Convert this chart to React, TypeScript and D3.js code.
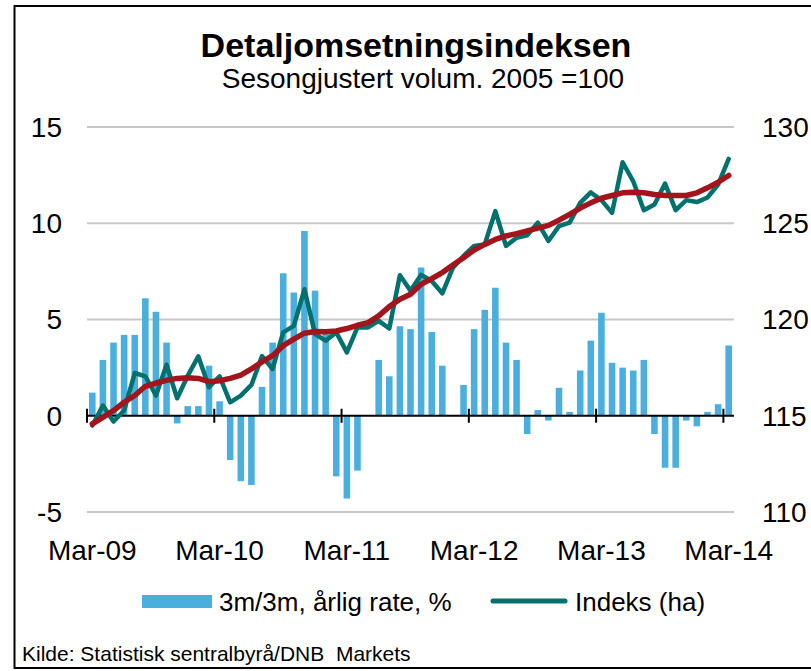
import React from 'react';
import * as d3 from 'd3';

const MONTHS = ['Jan', 'Feb', 'Mar', 'Apr', 'Mai', 'Jun', 'Jul', 'Aug', 'Sep', 'Okt', 'Nov', 'Des'];
const categories: string[] = [];
for (let i = 0; i < 61; i++) {
  const m = (2 + i) % 12;
  const y = 9 + Math.floor((2 + i) / 12);
  categories.push(`${MONTHS[m]}-${String(y).padStart(2, '0')}`);
}

const tickLabels = ['Mar-09', 'Mar-10', 'Mar-11', 'Mar-12', 'Mar-13', 'Mar-14'];
const leftTicks = [-5, 0, 5, 10, 15];
const rightTicks = [110, 115, 120, 125, 130];

// 3m/3m, årlig rate, % (left axis)
const rate = [
  1.2, 2.9, 3.8, 4.2, 4.2, 6.1, 5.4, 3.8, -0.4, 0.5, 0.5, 2.6,
  0.75, -2.3, -3.4, -3.6, 1.5, 3.8, 7.4, 6.4, 9.6, 6.5, 4.3, -3.15,
  -4.3, -2.85, 0, 2.9, 2.05, 4.65, 4.5, 7.7, 4.35, 2.6, 0, 1.6,
  4.5, 5.5, 6.65, 3.8, 2.9, -0.95, 0.3, -0.25, 1.45, 0.2, 2.35, 3.9,
  5.35, 2.75, 2.5, 2.35, 2.9, -0.95, -2.7, -2.7, -0.25, -0.55, 0.2, 0.6,
  3.65,
];

// Indeks (ha) (right axis)
const indeks = [
  114.49, 115.53, 114.7, 115.27, 117.22, 117.05, 116.05, 117.65, 115.91, 117.08, 118.08, 116.48,
  117.05, 115.7, 116.05, 116.6, 118.1, 117.43, 119.33, 119.67, 121.57, 119.24, 118.9, 119.33,
  118.29, 119.59, 119.59, 119.93, 119.53, 122.3, 121.49, 122.32, 122.0, 121.36, 122.69, 123.3,
  123.82, 123.9, 125.63, 123.82, 124.25, 124.37, 125.03, 124.08, 124.85, 125.03, 126.06, 126.6,
  126.2, 125.54, 128.17, 127.18, 125.68, 125.97, 127.06, 125.68, 126.2, 126.1, 126.34, 127.01,
  128.34,
];

// Trend (right axis)
const trend = [
  114.58, 114.92, 115.27, 115.7, 116.05, 116.53, 116.7, 116.84, 116.94, 116.98, 116.94, 116.77,
  116.82, 116.94, 117.11, 117.43, 117.8, 118.12, 118.64, 118.98, 119.29, 119.38, 119.36, 119.4,
  119.53, 119.7, 119.84, 120.19, 120.67, 121.05, 121.31, 121.83, 122.12, 122.44, 122.83, 123.21,
  123.61, 123.9, 124.16, 124.34, 124.46, 124.6, 124.75, 124.89, 125.16, 125.46, 125.79, 126.06,
  126.3, 126.44, 126.58, 126.61, 126.58, 126.49, 126.44, 126.44, 126.44, 126.58, 126.84, 127.13,
  127.48,
];

const W = 811;
const H = 671;
const FONT = '"Liberation Sans", Arial, sans-serif';
const BAR = '#4AAFDF';
const TEAL = '#00716C';
const RED = '#A3141C';

export default function App() {
  const x = d3.scaleBand<string>().domain(categories).range([87, 734]).paddingInner(0.38).paddingOuter(0.19);
  const yL = d3.scaleLinear().domain([-5, 15]).range([512, 127]);
  const yR = d3.scaleLinear().domain([110, 130]).range([512, 127]);
  const half = (x.step() - x.bandwidth()) / 2;
  const cx = (i: number) => (x(categories[i]) as number) + x.bandwidth() / 2;
  const tickX = (c: string) => (x(c) as number) - half;

  const line = d3.line<number>().x((_, i) => cx(i)).y((d) => yR(d));
  const [x0, x1] = x.range();
  const zeroY = yL(0);

  return (
    <svg width={W} height={H} style={{ position: 'absolute', left: 0, top: 0, background: '#fff' }} fontFamily={FONT}>
      <rect x={0} y={0} width={W} height={H} fill="#fff" />
      <rect x={14.5} y={6} width={W} height={662} fill="none" stroke="#000" strokeWidth={2} />

      <text x={416} y={57} textAnchor="middle" fontSize={34} fontWeight="bold" fill="#000">Detaljomsetningsindeksen</text>
      <text x={423} y={88} textAnchor="middle" fontSize={28} fill="#000">Sesongjustert volum. 2005 =100</text>

      {leftTicks.filter((t) => t !== 0).map((t) => (
        <line key={`g${t}`} x1={x0} x2={x1} y1={yL(t)} y2={yL(t)} stroke="#C8C8C8" strokeWidth={2} />
      ))}

      {rate.map((v, i) => (
        <rect key={`b${i}`} x={x(categories[i])} width={x.bandwidth()} y={Math.min(yL(v), zeroY)} height={Math.abs(yL(v) - zeroY)} fill={BAR} />
      ))}

      <line x1={x0} x2={x1} y1={zeroY} y2={zeroY} stroke="#000" strokeWidth={2} />
      {tickLabels.map((c) => (
        <line key={`t${c}`} x1={tickX(c)} x2={tickX(c)} y1={zeroY - 7} y2={zeroY + 7} stroke="#000" strokeWidth={2} />
      ))}

      <path d={line(indeks) || ''} fill="none" stroke={TEAL} strokeWidth={4.5} strokeLinejoin="round" strokeLinecap="round" />
      <path d={line(trend) || ''} fill="none" stroke={RED} strokeWidth={5.5} strokeLinejoin="round" strokeLinecap="round" />

      {leftTicks.map((t) => (
        <text key={`l${t}`} x={62} y={yL(t)} dy="0.35em" textAnchor="end" fontSize={28} fill="#000">{t}</text>
      ))}
      {rightTicks.map((t) => (
        <text key={`r${t}`} x={762} y={yR(t)} dy="0.35em" textAnchor="start" fontSize={28} fill="#000">{t}</text>
      ))}
      {tickLabels.map((c) => (
        <text key={`x${c}`} x={tickX(c) + x.step() / 2} y={560} textAnchor="middle" fontSize={28} fill="#000">{c}</text>
      ))}

      <rect x={142} y={595} width={70} height={13} fill={BAR} />
      <text x={219} y={611} fontSize={26} fill="#000">3m/3m, årlig rate, %</text>
      <line x1={493} x2={565} y1={601} y2={601} stroke={TEAL} strokeWidth={5} strokeLinecap="round" />
      <text x={575} y={611} fontSize={26} fill="#000">Indeks (ha)</text>

      <text x={22} y={661} fontSize={21} fill="#000" style={{ whiteSpace: 'pre' }}>Kilde: Statistisk sentralbyrå/DNB  Markets</text>
    </svg>
  );
}
